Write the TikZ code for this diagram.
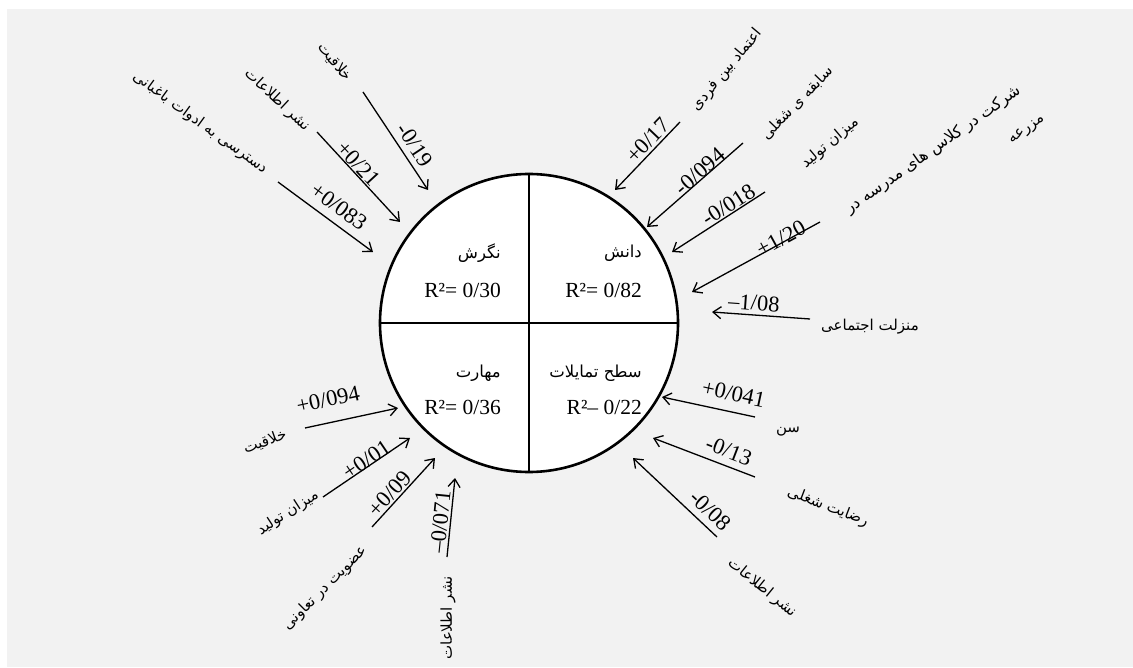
\documentclass[tikz,border=0pt]{standalone}
\usepackage{fontspec}
\setmainfont{Liberation Serif}
\newfontfamily\fafont[Script=Arabic]{DejaVu Sans}
\TeXXeTstate=1
\usetikzlibrary{arrows.meta}
\definecolor{panel}{HTML}{F2F2F2}
\newcommand\fa[1]{\beginR #1\endR}
\tikzset{
  flow/.style={-{Straight Barb[length=8pt,width=12pt]},line width=1.3pt},
  coef/.style={sloped,above,font=\fontsize{22.5}{22.5}\selectfont,inner sep=2pt},
  fact/.style={font=\fontsize{15}{15}\selectfont\fafont,inner sep=1pt},
  quad/.style={anchor=east,font=\fontsize{21.5}{21.5}\selectfont,inner sep=0pt},
  quadfa/.style={anchor=east,font=\fontsize{16.5}{16.5}\selectfont\fafont,inner sep=0pt},
  ring/.style={draw,circle,fill=white,line width=2.6pt,minimum size=298pt,inner sep=0pt},
  split/.style={line width=2.8pt},
}
\begin{document}
\begin{tikzpicture}[x=1pt,y=-1pt]
  \useasboundingbox (0,0) rectangle (1133,668);
  \fill[panel] (7,9) rectangle (1133,667);
  % central model
  \node[ring] (ring) at (529,323) {};
  \draw[split] (ring.north) -- (ring.south);
  \draw[split] (ring.west) -- (ring.east);
  \node[quadfa] (att) at (501,253) {\fa{نگرش}};
  \node[quad] (attr) at (501,290) {R²= 0/30};
  \node[quadfa] (know) at (642,253) {\fa{دانش}};
  \node[quad] (knowr) at (642,290) {R²= 0/82};
  \node[quadfa] (skill) at (501,373) {\fa{مهارت}};
  \node[quad] (skillr) at (501,407) {R²= 0/36};
  \node[quadfa] (tend) at (642,373) {\fa{سطح تمایلات}};
  \node[quad] (tendr) at (642,407) {R²– 0/22};

  % attitude
  \node[fact,rotate=-50] (a1) at (335,62) {\fa{خلاقیت}};
  \node[fact,rotate=-43] (a2) at (277,100) {\fa{نشر اطلاعات}};
  \node[fact,rotate=-36] (a3) at (200,123) {\fa{دسترسی به ادوات باغبانی}};
  \coordinate (a1t) at (363,92);  \coordinate (a1h) at (428,190);
  \coordinate (a2t) at (317,132); \coordinate (a2h) at (400,222);
  \coordinate (a3t) at (278,182); \coordinate (a3h) at (373,252);
  \draw[flow] (a1t) -- node[coef,pos=.62,above=4pt] {-0/19} (a1h);
  \draw[flow] (a2t) -- node[coef,pos=.42,above=-1pt] {+0/21} (a2h);
  \draw[flow] (a3t) -- node[coef,pos=.54,above=6pt] {+0/083} (a3h);

  % knowledge
  \node[fact,rotate=50] (k1) at (727,70) {\fa{اعتماد بین فردی}};
  \node[fact,rotate=46] (k2) at (797,103) {\fa{سابقه ی شغلی}};
  \node[fact,rotate=40] (k3) at (830,143) {\fa{میزان تولید}};
  \node[fact,rotate=35,font=\fontsize{16}{16}\selectfont\fafont] (k4) at (933,150) {\fa{شرکت در کلاس های مدرسه در}};
  \node[fact,rotate=35] (k4b) at (1027,130) {\fa{مزرعه}};
  \node[fact] (k5) at (870,327) {\fa{منزلت اجتماعی}};
  \coordinate (k1t) at (680,122); \coordinate (k1h) at (615,190);
  \coordinate (k2t) at (743,143); \coordinate (k2h) at (647,227);
  \coordinate (k3t) at (765,192); \coordinate (k3h) at (672,252);
  \coordinate (k4t) at (820,222); \coordinate (k4h) at (692,292);
  \coordinate (k5t) at (810,319); \coordinate (k5h) at (712,312);
  \draw[flow] (k1t) -- node[coef,pos=.38] {+0/17} (k1h);
  \draw[flow] (k2t) -- node[coef,pos=.40,above=-3pt] {-0/094} (k2h);
  \draw[flow] (k3t) -- node[coef,pos=.34,above=-1pt] {-0/018} (k3h);
  \draw[flow] (k4t) -- node[coef,pos=.29,above=-6pt] {+1/20} (k4h);
  \draw[flow] (k5t) -- node[coef,pos=.58,above=2pt] {–1/08} (k5h);

  % skill
  \node[fact,rotate=20] (s1) at (265,442) {\fa{خلاقیت}};
  \node[fact,rotate=33] (s2) at (288,513) {\fa{میزان تولید}};
  \node[fact,rotate=45] (s3) at (325,588) {\fa{عضویت در تعاونی}};
  \node[fact,rotate=90] (s4) at (448,618) {\fa{نشر اطلاعات}};
  \coordinate (s1t) at (305,428); \coordinate (s1h) at (398,408);
  \coordinate (s2t) at (323,497); \coordinate (s2h) at (410,438);
  \coordinate (s3t) at (372,527); \coordinate (s3h) at (435,458);
  \coordinate (s4t) at (447,557); \coordinate (s4h) at (455,478);
  \draw[flow] (s1t) -- node[coef,pos=.30,above=13pt] {+0/094} (s1h);
  \draw[flow] (s2t) -- node[coef,pos=.54,above=-4pt] {+0/01} (s2h);
  \draw[flow] (s3t) -- node[coef,pos=.39,above=-1pt] {+0/09} (s3h);
  \draw[flow] (s4t) -- node[coef,pos=.43] {–0/071} (s4h);

  % tendency
  \node[fact] (d1) at (788,432) {\fa{سن}};
  \node[fact,rotate=-21] (d2) at (828,507) {\fa{رضایت شغلی}};
  \node[fact,rotate=-39] (d3) at (762,588) {\fa{نشر اطلاعات}};
  \coordinate (d1t) at (755,417); \coordinate (d1h) at (662,397);
  \coordinate (d2t) at (755,477); \coordinate (d2h) at (653,438);
  \coordinate (d3t) at (717,537); \coordinate (d3h) at (633,458);
  \draw[flow] (d1t) -- node[coef,pos=.27,above=8pt] {+0/041} (d1h);
  \draw[flow] (d2t) -- node[coef,pos=.31,above=5pt] {-0/13} (d2h);
  \draw[flow] (d3t) -- node[coef,pos=.20,above=5pt] {-0/08} (d3h);
\end{tikzpicture}
\end{document}
